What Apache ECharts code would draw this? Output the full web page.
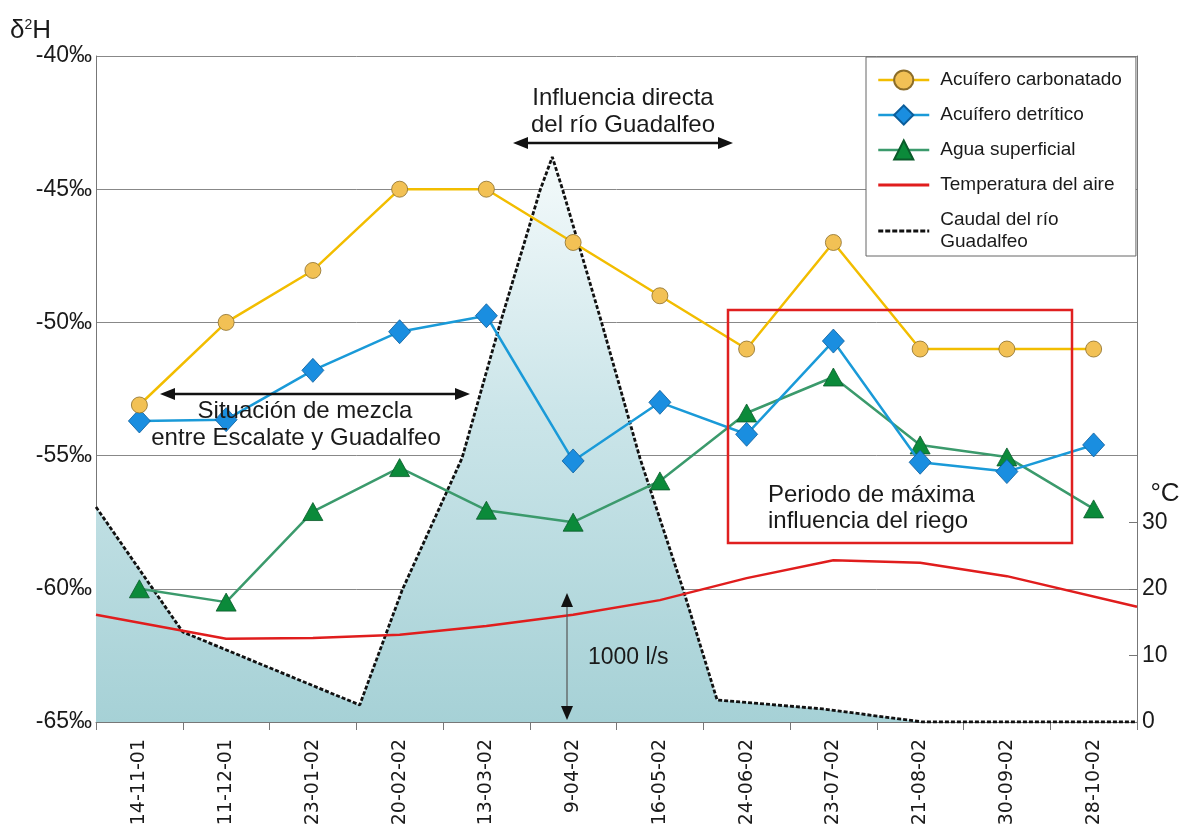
<!DOCTYPE html>
<html>
<head>
<meta charset="utf-8">
<script src="https://cdn.jsdelivr.net/npm/echarts@6/dist/echarts.min.js"></script>
<style>
html,body{margin:0;padding:0;background:#fff;}
#c{width:1185px;height:835px;}
</style>
</head>
<body>
<div id="c"></div>
<script>
// ---- data ----
const dates = ['14-11-01','11-12-01','23-01-02','20-02-02','13-03-02','9-04-02','16-05-02','24-06-02','23-07-02','21-08-02','30-09-02','28-10-02'];
const carbonatado = [-53.1,-50.0,-48.05,-45.0,-45.0,-47.0,-49.0,-51.0,-47.0,-51.0,-51.0,-51.0];
const detritico = [-53.7,-53.65,-51.8,-50.35,-49.75,-55.2,-53.0,-54.2,-50.7,-55.25,-55.6,-54.6];
const superficial = [-60.0,-60.5,-57.1,-55.45,-57.05,-57.5,-55.95,-53.4,-52.05,-54.6,-55.05,-57.0];
// temperature (°C) at positions measured in category widths from the left edge
const tempPos = [0,1.5,2.5,3.5,4.5,5.5,6.5,7.5,8.5,9.5,10.5,12];
const tempC = [16.1,12.5,12.6,13.1,14.4,16.1,18.3,21.6,24.3,23.9,21.9,17.3];
// river discharge (l/s)
const flowPos = [0,1.0,3.04,3.53,4.22,4.66,5.12,5.26,5.38,5.83,6.27,6.77,7.16,8.38,9.53,12];
const flowLs = [1614,676,128,991,1982,2995,3994,4242,3994,2995,1982,991,165,98,0,0];
const rightTicks = [0,10,20,30];

const FONT = '"Liberation Sans", Arial, sans-serif';
const pair = (xs, ys) => xs.map((x, i) => [x, ys[i]]);

function hArrow(x1, x2, y) {
  return [
    {type:'line', shape:{x1:x1+10, y1:y, x2:x2-10, y2:y}, style:{stroke:'#111', lineWidth:2.5}, z:50},
    {type:'polygon', shape:{points:[[x1,y],[x1+15,y-6],[x1+15,y+6]]}, style:{fill:'#111'}, z:50},
    {type:'polygon', shape:{points:[[x2,y],[x2-15,y-6],[x2-15,y+6]]}, style:{fill:'#111'}, z:50}
  ];
}
function vArrow(x, y1, y2) {
  return [
    {type:'line', shape:{x1:x, y1:y1+8, x2:x, y2:y2-8}, style:{stroke:'#555', lineWidth:1.2}, z:50},
    {type:'polygon', shape:{points:[[x,y1],[x-6,y1+14],[x+6,y1+14]]}, style:{fill:'#111'}, z:50},
    {type:'polygon', shape:{points:[[x,y2],[x-6,y2-14],[x+6,y2-14]]}, style:{fill:'#111'}, z:50}
  ];
}
function txt(text, x, y, size, align) {
  return {type:'text', x:x, y:y, z:50,
    style:{text:text, fontSize:size, fontFamily:FONT, fill:'#1a1a1a', align:align||'center', verticalAlign:'middle'}};
}
// legend icons: plain line and dashed line
const lineIcon = 'path://M0,0h51v2.8h-51z';
let dash = '';
for (let x = 0; x < 51; x += 7) dash += 'M' + x + ',0h' + Math.min(5, 51 - x) + 'v3.2h-' + Math.min(5, 51 - x) + 'z';
const dashIcon = 'path://' + dash;

const chart = echarts.init(document.getElementById('c'), null, {renderer:'canvas'});
const option = {
  backgroundColor:'#fff',
  animation:false,
  textStyle:{fontFamily:FONT},
  grid:{left:96, right:48, top:56, bottom:113, outerBoundsMode:'none'},
  legend:{
    orient:'vertical', left:866, top:57,
    padding:[12,14,3,11], itemGap:13, itemWidth:51, itemHeight:24,
    backgroundColor:'#fff', borderColor:'#666', borderWidth:1,
    lineStyle:{width:2.5},
    textStyle:{fontSize:19, color:'#1a1a1a', fontFamily:FONT, padding:[0,0,0,6], lineHeight:22},
    data:[
      {name:'Acuífero carbonatado'},
      {name:'Acuífero detrítico'},
      {name:'Agua superficial'},
      {name:'Temperatura del aire', icon:lineIcon},
      {name:'Caudal del río\nGuadalfeo', icon:dashIcon}
    ]
  },
  xAxis:[
    {type:'category', data:dates, boundaryGap:true,
      axisLine:{lineStyle:{color:'#777', width:1}},
      axisTick:{show:true, length:8, lineStyle:{color:'#777'}},
      axisLabel:{rotate:90, fontSize:19, color:'#1a1a1a', margin:17, fontFamily:'"DejaVu Sans", sans-serif'},
      splitLine:{show:false}},
    {type:'value', min:0, max:12, show:false}
  ],
  yAxis:[
    {type:'value', min:-65, max:-40, interval:5, position:'left',
      axisLine:{show:true, lineStyle:{color:'#777'}},
      axisTick:{show:false},
      axisLabel:{fontSize:23, color:'#1a1a1a', margin:4, padding:[8,0,0,0], formatter:v => v + '‰', fontFamily:FONT},
      splitLine:{show:true, lineStyle:{color:'#888', width:1}}},
    {type:'value', min:0, max:100, interval:10, position:'right',
      axisLine:{show:true, lineStyle:{color:'#777'}},
      axisTick:{show:true, inside:true, length:8, customValues:rightTicks, lineStyle:{color:'#777'}},
      axisLabel:{fontSize:23, color:'#1a1a1a', margin:5, customValues:rightTicks, fontFamily:FONT},
      splitLine:{show:false}},
    {type:'value', min:0, max:5000, show:false}
  ],
  series:[
    {name:'Caudal del río\nGuadalfeo', type:'line', xAxisIndex:1, yAxisIndex:2,
      data:pair(flowPos, flowLs), symbol:'none', z:1,
      lineStyle:{color:'#111', width:2.8, type:[4,2]},
      itemStyle:{color:'#111'},
      areaStyle:{opacity:1, color:new echarts.graphic.LinearGradient(0,0,0,1,[
        {offset:0, color:'#f4fafb'},{offset:0.45, color:'#cbe5e9'},{offset:1, color:'#a6d1d6'}])}},
    {name:'Temperatura del aire', type:'line', xAxisIndex:1, yAxisIndex:1,
      data:pair(tempPos, tempC), symbol:'none', z:3,
      lineStyle:{color:'#e01d1d', width:2.5}, itemStyle:{color:'#e01d1d'}},
    {name:'Agua superficial', type:'line', data:superficial, z:4,
      symbol:'triangle', symbolSize:[20,18],
      lineStyle:{color:'#3b9a6c', width:2.5},
      itemStyle:{color:'#0b8a3a', borderColor:'#0a5a2a', borderWidth:0.8}},
    {name:'Acuífero detrítico', type:'line', data:detritico, z:5,
      symbol:'diamond', symbolSize:[22,24],
      lineStyle:{color:'#1a9ad8', width:2.5},
      itemStyle:{color:'#1a8ee0', borderColor:'#0b5d9a', borderWidth:0.8}},
    {name:'Acuífero carbonatado', type:'line', data:carbonatado, z:6,
      symbol:'circle', symbolSize:16,
      lineStyle:{color:'#f2bd00', width:2.5},
      itemStyle:{color:'#f2c155', borderColor:'#8c6d28', borderWidth:0.8}}
  ],
  graphic:[
    {type:'text', x:10, y:31, z:50, style:{text:'δ{s|2}H', fontSize:26, fontFamily:FONT, fill:'#1a1a1a', verticalAlign:'middle',
      rich:{s:{fontSize:14, verticalAlign:'top', padding:[0,0,12,0], fontFamily:FONT, fill:'#1a1a1a'}}}},
    txt('°C', 1165, 494, 26),
    txt('Influencia directa', 623, 98, 24),
    txt('del río Guadalfeo', 623, 125, 24),
    ...hArrow(513, 733, 143),
    ...hArrow(160, 470, 394),
    txt('Situación de mezcla', 305, 411, 24),
    txt('entre Escalate y Guadalfeo', 296, 438, 24),
    {type:'rect', shape:{x:728, y:310, width:344, height:233}, style:{fill:'none', stroke:'#e02020', lineWidth:2.5}, z:50},
    txt('Periodo de máxima', 768, 495, 24, 'left'),
    txt('influencia del riego', 768, 521, 24, 'left'),
    ...vArrow(567, 593, 720),
    txt('1000 l/s', 588, 658, 23, 'left')
  ]
};
chart.setOption(option);
</script>
</body>
</html>
